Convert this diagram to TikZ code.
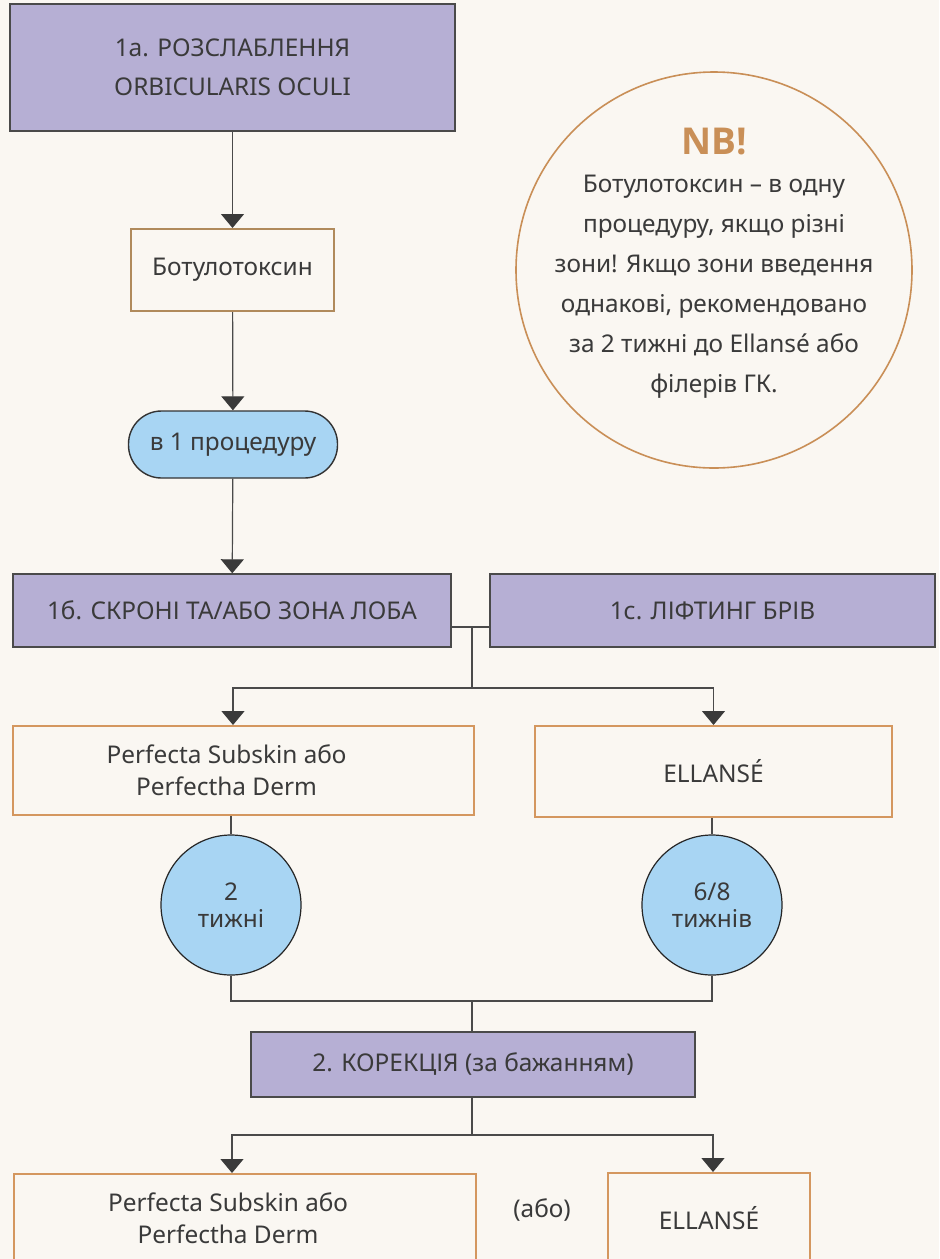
\documentclass[tikz,border=0pt]{standalone}
\usepackage{fontspec}
\setmainfont{Noto Sans}
\newfontfamily\nbfont{Open Sans}
\usetikzlibrary{arrows.meta,calc}
\definecolor{bg}{HTML}{FAF7F2}
\definecolor{lav}{HTML}{B6AFD4}
\definecolor{sky}{HTML}{A8D5F3}
\definecolor{tan}{HTML}{B08A5C}
\definecolor{ochre}{HTML}{D4975F}
\definecolor{nbc}{HTML}{C98F57}
\definecolor{ink}{HTML}{3A3A3A}
\definecolor{edge}{HTML}{4A4A4A}
\newcommand{\padR}{\rule{17pt}{0pt}}
\tikzset{
  stage/.style={draw=edge,fill=lav,line width=0.7pt,text=ink,align=center,inner sep=0pt,
    font=\fontsize{12.2}{19.5}\selectfont},
  drug/.style={draw=ochre,fill=bg,line width=1pt,text=ink,align=center,inner sep=0pt,
    font=\fontsize{12.2}{16}\selectfont},
  wait/.style={circle,draw=black!85,fill=sky,line width=0.6pt,text=ink,align=center,
    minimum size=70pt,inner sep=0pt,font=\fontsize{12.2}{13.5}\selectfont},
  link/.style={draw=edge,line width=0.6pt},
  tip/.style={link,-{Triangle[width=11.5pt,length=7pt,color=ink]}}
}
\begin{document}
\begin{tikzpicture}[x=0.5pt,y=-0.5pt]
  % page: 939 x 1259 px, one unit = one px
  \fill[bg] (0,0) rectangle (939,1259);
  \clip (0,0) rectangle (939,1259);

  % step 1
  \node[stage,minimum width=222.5pt,minimum height=63.5pt] (relax) at (232.5,67.5)
    {1a. РОЗСЛАБЛЕННЯ\\ORBICULARIS OCULI};
  \node[drug,draw=tan,minimum width=101.5pt,minimum height=41pt] (botox) at (232.5,270)
    {Ботулотоксин};
  \node[stage,draw=black!80,fill=sky,rounded corners=16.5pt,minimum width=104.5pt,
    minimum height=33.5pt] (once) at (233,444.5) {в 1 процедуру};
  \node[stage,minimum width=219pt,minimum height=36.5pt] (temple) at (232,610.5)
    {1б. СКРОНІ ТА/АБО ЗОНА ЛОБА};
  \node[stage,minimum width=222.5pt,minimum height=36.5pt] (brow) at (712.5,610.5)
    {1с. ЛІФТИНГ БРІВ};

  % fillers and waiting time
  \node[drug,minimum width=230.5pt,minimum height=44.5pt] (perfA) at (243.5,770.5)
    {Perfecta Subskin або\padR\\Perfectha Derm\padR};
  \node[drug,minimum width=178.5pt,minimum height=45.5pt] (ellA) at (713.5,771.5)
    {ELLANSÉ};
  \node[wait] (wk2) at (231,905) {2\\тижні};
  \node[wait] (wk68) at (712,905) {6/8\\тижнів};

  % step 2
  \node[stage,minimum width=222pt,minimum height=32.5pt] (corr) at (473,1064.5)
    {2. КОРЕКЦІЯ (за бажанням)};
  \node[drug,minimum width=231pt,minimum height=44.5pt] (perfB) at (245,1218.5)
    {Perfecta Subskin або\padR\\Perfectha Derm\padR};
  \node[drug,minimum width=101pt,minimum height=45.5pt] (ellB) at (709,1218.5)
    {ELLANSÉ};
  \node[text=ink,font=\fontsize{12.2}{14}\selectfont] (alt) at (542,1210) {(або)};

  % note
  \node[circle,draw=nbc,line width=0.8pt,minimum size=198pt,inner sep=0pt] (nb) at (714,270) {};
  \node[text=nbc,font=\fontsize{18.5}{20}\nbfont\bfseries] (nbt) at (714,142) {NB!};
  \node[text=ink,align=center,font=\fontsize{12.2}{20}\selectfont] (nbx) at (714,287)
    {Ботулотоксин – в одну\\процедуру, якщо різні\\зони! Якщо зони введення\\
     однакові, рекомендовано\\за 2 тижні до Ellansé або\\філерів ГК.};

  % connectors
  \coordinate (j1) at (472,627);
  \coordinate (j2) at (472,688);
  \coordinate (j3) at (472,1001);
  \coordinate (j4) at (472,1135);
  \draw[tip] (relax) -- (botox);
  \draw[tip] (botox) -- (once);
  \draw[tip] (once) -- (temple);
  \draw[link] (j1 -| temple.east) -- (j1 -| brow.west);
  \draw[link] (j1) -- (j2);
  \draw[tip] (j2) -| ([xshift=-5.25pt]perfA.north);
  \draw[tip] (j2) -| (ellA.north);
  \draw[link] (perfA.south -| wk2) -- (wk2.north);
  \draw[link] (ellA.south -| wk68) -- (wk68.north);
  \draw[link] (wk2.south) |- (j3) -| (wk68.south);
  \draw[link] (j3) -- (corr.north -| j3);
  \draw[link] (corr.south -| j4) -- (j4);
  \draw[tip] (j4) -| ([xshift=-6.5pt]perfB.north);
  \draw[tip] (j4) -| ([xshift=2pt]ellB.north);
\end{tikzpicture}
\end{document}
